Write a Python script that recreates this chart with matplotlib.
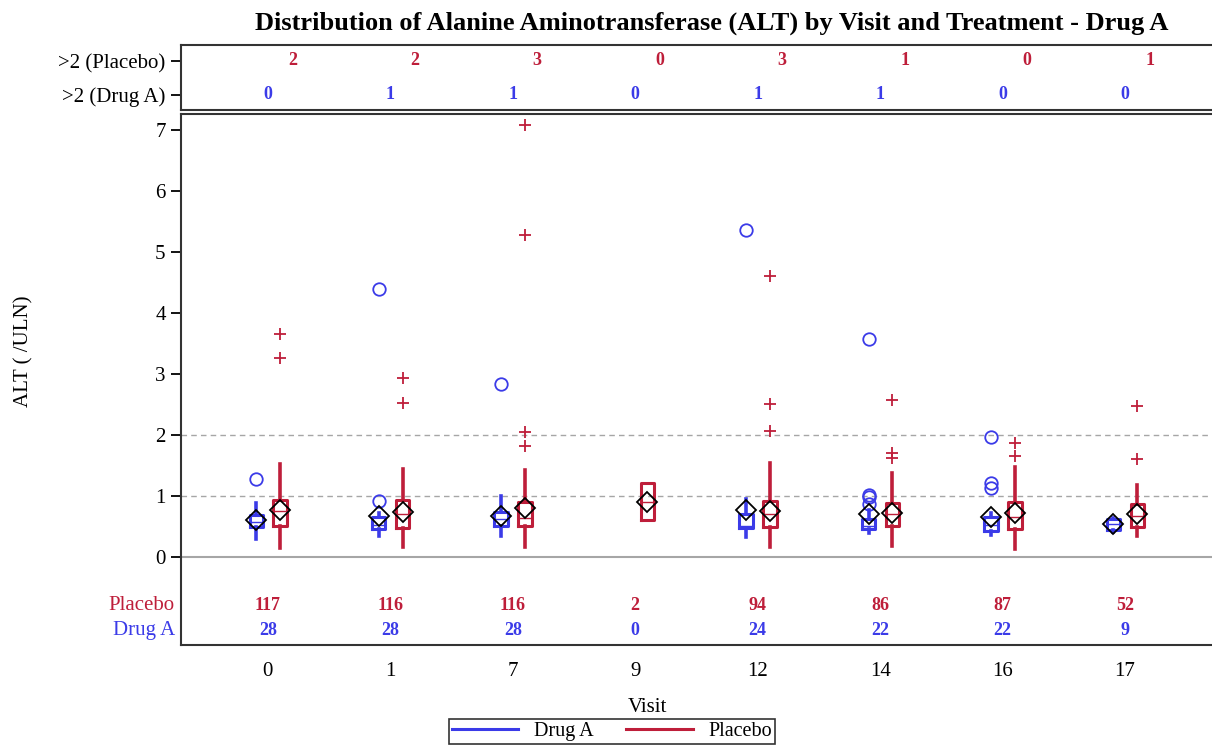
import numpy as np
import matplotlib
matplotlib.use('Agg')
import matplotlib.pyplot as plt
from matplotlib.lines import Line2D

plt.rcParams['font.family'] = ['Liberation Serif', 'DejaVu Serif']

# Data
visits = ['0', '1', '7', '9', '12', '14', '16', '17']

# Drug A box stats (visit 9 has no subjects)
drug_lo   = [0.30, 0.34, 0.34, None, 0.33, 0.39, 0.36, 0.41]
drug_q1   = [0.49, 0.46, 0.51, None, 0.48, 0.46, 0.43, 0.44]
drug_med  = [0.58, 0.52, 0.62, None, 0.51, 0.51, 0.52, 0.54]
drug_q3   = [0.69, 0.66, 0.74, None, 0.70, 0.62, 0.66, 0.63]
drug_hi   = [0.89, 0.72, 1.00, None, 0.95, 0.77, 0.72, 0.64]
drug_mean = [0.60, 0.67, 0.67, None, 0.77, 0.70, 0.66, 0.54]
drug_out  = [[1.28], [0.92, 4.40], [2.84], [], [5.36],
             [0.87, 0.99, 1.01, 3.57], [1.13, 1.22, 1.97], []]

# Placebo box stats
pla_lo   = [0.15, 0.17, 0.17, 0.60, 0.17, 0.18, 0.13, 0.34]
pla_q1   = [0.51, 0.47, 0.51, 0.60, 0.49, 0.51, 0.46, 0.49]
pla_med  = [0.75, 0.70, 0.64, 0.91, 0.70, 0.70, 0.66, 0.68]
pla_q3   = [0.93, 0.93, 0.91, 1.21, 0.92, 0.89, 0.91, 0.87]
pla_hi   = [1.52, 1.44, 1.43, 1.21, 1.54, 1.37, 1.48, 1.18]
pla_mean = [0.77, 0.74, 0.81, 0.91, 0.75, 0.73, 0.72, 0.70]
pla_out  = [[3.27, 3.65], [2.52, 2.93], [1.82, 2.05, 5.27, 7.08], [],
            [2.06, 2.51, 4.60], [1.63, 1.70, 2.58], [1.66, 1.87], [1.60, 2.48]]

# counts above 2 x ULN and subject counts
gt2_placebo = [2, 2, 3, 0, 3, 1, 0, 1]
gt2_drug    = [0, 1, 1, 0, 1, 1, 0, 0]
n_placebo   = [117, 116, 116, 2, 94, 86, 87, 52]
n_drug      = [28, 28, 28, 0, 24, 22, 22, 9]

BLUE = '#3b3be8'
RED = '#be1e3a'
GREY = '#a6a6a6'
FS = 15

fig = plt.figure(figsize=(12.12, 7.48), dpi=100)
ax = fig.add_axes((0.1493, 0.1377, 0.8507, 0.7099))
axTop = fig.add_axes((0.1493, 0.8530, 0.8507, 0.0869))

x = np.arange(len(visits))
xlim = (-0.71, 7.71)


def make_stats(lo, q1, med, q3, hi, mean, out):
    stats, pos = [], []
    for i in range(len(visits)):
        if med[i] is None:
            continue
        stats.append(dict(whislo=lo[i], q1=q1[i], med=med[i], q3=q3[i],
                          whishi=hi[i], mean=mean[i], fliers=out[i]))
        pos.append(x[i])
    return stats, np.array(pos)


def draw_boxes(stats, pos, color, flier_marker):
    ax.bxp(stats, positions=pos, widths=0.11, showmeans=True, showcaps=False,
           patch_artist=False, manage_ticks=False,
           boxprops=dict(color=color, linewidth=2.2),
           whiskerprops=dict(color=color, linewidth=2.6),
           medianprops=dict(color=color, linewidth=1.0),
           meanprops=dict(marker='D', markersize=10, markerfacecolor='none',
                          markeredgecolor='black', markeredgewidth=1.3),
           flierprops=dict(marker=flier_marker, markersize=9,
                           markerfacecolor='none', markeredgecolor=color,
                           markeredgewidth=1.3, linestyle='none'))


# reference lines
ax.axhline(0, color=GREY, linewidth=1.5, zorder=0)
ax.axhline(1, color=GREY, linewidth=1.0, linestyle=(0, (4, 3)), zorder=0)
ax.axhline(2, color=GREY, linewidth=1.0, linestyle=(0, (4, 3)), zorder=0)

s, p = make_stats(drug_lo, drug_q1, drug_med, drug_q3, drug_hi, drug_mean, drug_out)
draw_boxes(s, p - 0.095, BLUE, 'o')
s, p = make_stats(pla_lo, pla_q1, pla_med, pla_q3, pla_hi, pla_mean, pla_out)
draw_boxes(s, p + 0.10, RED, '+')

# N rows inside main axes
for i in range(len(visits)):
    ax.text(x[i], -0.80, str(n_placebo[i]), color=RED, fontsize=13,
            fontweight='bold', ha='center', va='center')
    ax.text(x[i], -1.20, str(n_drug[i]), color=BLUE, fontsize=13,
            fontweight='bold', ha='center', va='center')
ax.text(-0.76, -0.80, 'Placebo', color=RED, fontsize=FS, ha='right',
        va='center', clip_on=False)
ax.text(-0.76, -1.20, 'Drug A', color=BLUE, fontsize=FS, ha='right',
        va='center', clip_on=False)

ax.set_xlim(xlim)
ax.set_ylim(-1.44, 7.26)
ax.set_yticks(range(0, 8))
ax.set_xticks(x)
ax.set_xticklabels(visits)
ax.tick_params(axis='x', length=0, pad=12, labelsize=FS)
ax.tick_params(axis='y', length=7, width=1.3, labelsize=FS, pad=4)
ax.set_xlabel('Visit', fontsize=FS)
ax.xaxis.set_label_coords(0.452, -0.10)
ax.set_ylabel('ALT ( /ULN)', fontsize=FS)
ax.yaxis.set_label_coords(-0.143, 0.553)
for name, sp in ax.spines.items():
    sp.set_linewidth(1.5)
    sp.set_color('#333333')
ax.spines['right'].set_visible(False)

# top panel with >2 counts
for i in range(len(visits)):
    axTop.text(x[i] + 0.2, 1, str(gt2_placebo[i]), color=RED, fontsize=13,
               fontweight='bold', ha='center', va='center')
    axTop.text(x[i], 0, str(gt2_drug[i]), color=BLUE, fontsize=13,
               fontweight='bold', ha='center', va='center')
axTop.set_xlim(xlim)
axTop.set_ylim(-0.44, 1.47)
axTop.set_xticks([])
axTop.set_yticks([0, 1])
axTop.set_yticklabels(['>2 (Drug A)', '>2 (Placebo)'])
axTop.tick_params(axis='y', length=7, width=1.3, labelsize=FS, pad=4)
for name, sp in axTop.spines.items():
    sp.set_linewidth(1.5)
    sp.set_color('#333333')
axTop.spines['right'].set_visible(False)

fig.suptitle('Distribution of Alanine Aminotransferase (ALT) by Visit and Treatment - Drug A',
             x=0.587, y=0.985, fontsize=19, fontweight='bold')

handles = [Line2D([], [], color=BLUE, linewidth=2.2, label='Drug A'),
           Line2D([], [], color=RED, linewidth=2.2, label='Placebo')]
leg = fig.legend(handles=handles, loc='lower center', bbox_to_anchor=(0.505, -0.008),
                 ncol=2, fontsize=14.5, frameon=True, fancybox=False, edgecolor='black',
                 handlelength=3.3, columnspacing=1.6, borderpad=0.15,
                 handletextpad=0.8)
leg.get_frame().set_linewidth(1.2)

fig.savefig('out.png', dpi=100)
